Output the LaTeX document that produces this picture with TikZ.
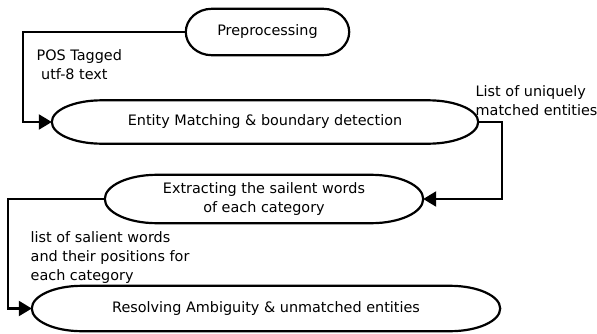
\documentclass[tikz,border=0pt]{standalone}
\usepackage{fontspec}
\setmainfont{DejaVu Sans}
\usetikzlibrary{arrows.meta,calc,positioning}
\tikzstyle{arrow} = [draw, line width=2.2pt, -{Triangle[length=13pt,width=15pt]}]
\tikzstyle{stage} = [rectangle, inner sep=0pt, align=center, font=\fontsize{14.4}{19}\selectfont]
\tikzstyle{outline} = [draw, line width=2.2pt]
\tikzstyle{note} = [inner sep=0pt, align=left, anchor=north west, font=\fontsize{14.4}{19}\selectfont]
% flat top and bottom, half-ellipse ends of x radius #2
\newcommand{\capsule}[2]{%
  \draw[outline] let \p1=(#1.north east), \p2=(#1.south west), \n1={(\y1-\y2)/2} in
    ({\x2+#2pt},\y1) -- ({\x1-#2pt},\y1)
    arc[start angle=90, end angle=-90, x radius=#2pt, y radius=\n1]
    -- ({\x2+#2pt},\y2)
    arc[start angle=270, end angle=90, x radius=#2pt, y radius=\n1] -- cycle;}
\begin{document}
\begin{tikzpicture}[x=1pt, y=1pt]
  \useasboundingbox (0,0) rectangle (597,333);
  \node (pre) [stage, minimum width=163pt, minimum height=46pt] at (267.5,301) {Preprocessing};
  \node (ent) [stage, minimum width=426pt, minimum height=43pt] at (265,211)  {Entity Matching \& boundary detection};
  \node (ext) [stage, minimum width=318pt, minimum height=48pt] at (264,134)  {Extracting the sailent words\\of each category};
  \node (res) [stage, minimum width=468pt, minimum height=45pt] at (266,24.5) {Resolving Ambiguity \& unmatched entities};
  \capsule{pre}{26}
  \capsule{ent}{50}
  \capsule{ext}{52}
  \capsule{res}{50}
  % connectors
  \draw[arrow] (pre.west) -- ++(-163,0) |- (ent.west);
  \draw[arrow] (ent.east) -- ++(24,0) |- (ext.east);
  \draw[arrow] (ext.west) -- ++(-97,0) |- (res.west);
  % labels
  \node (lblpos) [note] at (36.5,283.5) {POS Tagged\\\hspace*{4.5pt}utf-8 text};
  \node (lbluni) [note] at (475.5,247.5) {List of uniquely\\matched entities};
  \node (lblsal) [note] at (30.5,101.5) {list of salient words\\and their positions for\\each category};
\end{tikzpicture}
\end{document}
